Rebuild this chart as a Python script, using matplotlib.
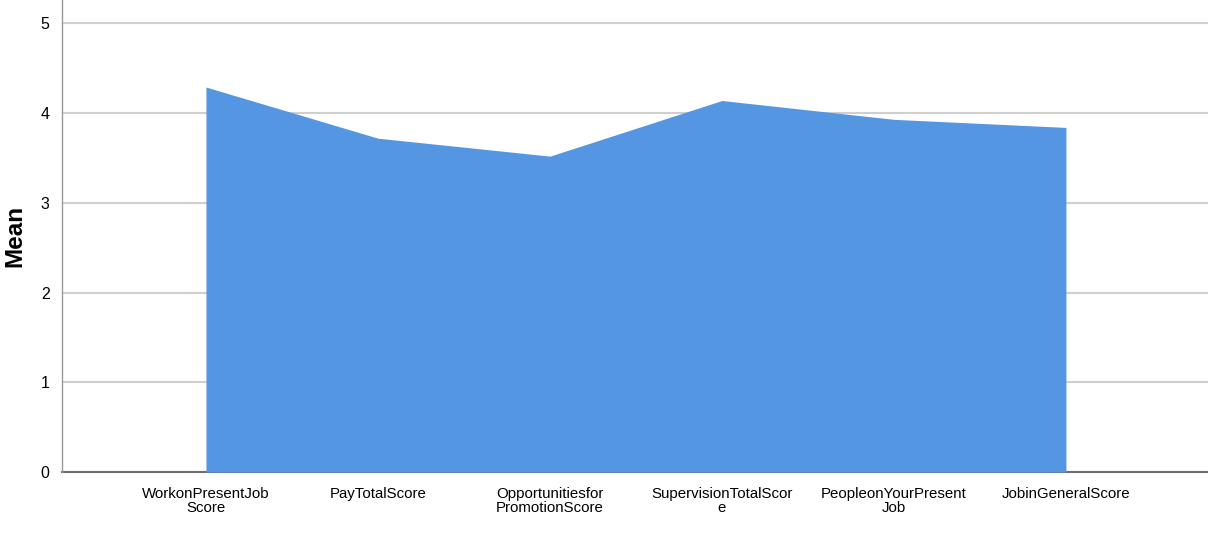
import numpy as np
import matplotlib
matplotlib.use("Agg")
import matplotlib.pyplot as plt

plt.rcParams['font.family'] = ['Liberation Sans', 'DejaVu Sans']

# category labels (as wrapped in the original)
categories = ["WorkonPresentJob\nScore", "PayTotalScore", "Opportunitiesfor\nPromotionScore",
              "SupervisionTotalScor\ne", "PeopleonYourPresent\nJob", "JobinGeneralScore"]
means = [4.29, 3.72, 3.52, 4.14, 3.93, 3.84]
yticks = [0, 1, 2, 3, 4, 5]

x = np.arange(len(categories))

fig = plt.figure(figsize=(12.08, 5.33), dpi=100)
ax = fig.add_axes([62/1208, 61/533, 1 - 62/1208, 1 - 61/533])

ax.fill_between(x, 0, means, color='#5596e3', linewidth=0, zorder=2)

ax.set_xlim(-0.837, 5.826)
ax.set_ylim(0, 5.26)
ax.set_yticks(yticks)
ax.set_xticks(x)
ax.set_xticklabels(categories, fontsize=10.8, linespacing=1.0)
ax.tick_params(axis='both', length=0, labelsize=11.5, colors='#000000')
ax.tick_params(axis='x', labelsize=10.8, pad=11)
ax.tick_params(axis='y', pad=9)

ax.grid(axis='y', color='#cfcfcf', linewidth=1.5, zorder=1)
ax.set_axisbelow(True)

for s in ['top', 'right']:
    ax.spines[s].set_visible(False)
ax.spines['left'].set_color('#9a9a9a')
ax.spines['left'].set_linewidth(1.0)
ax.spines['bottom'].set_color('#6e6e6e')
ax.spines['bottom'].set_linewidth(1.5)
ax.spines['bottom'].set_zorder(1)

ax.set_ylabel('Mean', fontsize=17.5, fontweight='bold', labelpad=10)

plt.savefig('out.png', dpi=100)
